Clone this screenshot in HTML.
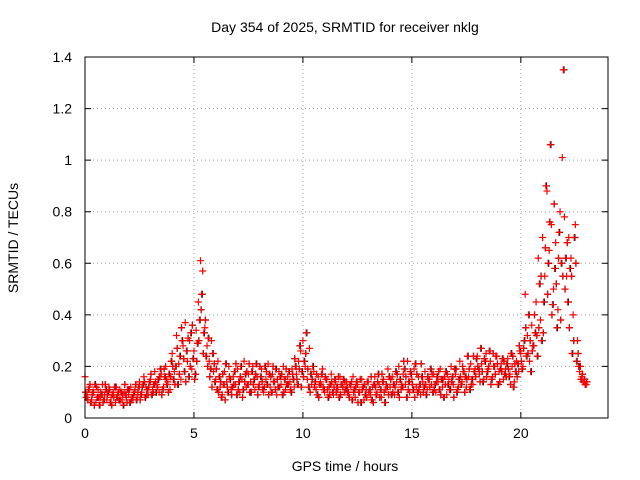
<!DOCTYPE html>
<html><head><meta charset="utf-8"><style>
body{margin:0;background:#fff;}
svg{display:block;font-family:"Liberation Sans",sans-serif;}
</style></head><body>
<svg id="chart" width="640" height="480" viewBox="0 0 640 480" xmlns="http://www.w3.org/2000/svg">
<rect width="640" height="480" fill="#fff"/>
<text x="345" y="32" font-size="14" text-anchor="middle">Day 354 of 2025, SRMTID for receiver nklg</text>
<text x="345" y="471" font-size="14" text-anchor="middle">GPS time / hours</text>
<text transform="translate(18,238) rotate(-90)" font-size="14" text-anchor="middle">SRMTID / TECUs</text>
<g id="grid"></g><g id="marks"></g><g id="axes"></g>
</svg>
<script>
const xTicks=[0,5,10,15,20];
const yTicks=[0,0.2,0.4,0.6,0.8,1,1.2,1.4];
const yTickLabels=["0","0.2","0.4","0.6","0.8","1","1.2","1.4"];
const seriesA=[.16,.09,.12,.07,.10,.06,.11,.08,.13,.09,.07,.12,.08,.10,.06,.09,.11,.07,.10,.08,
.09,.12,.07,.11,.08,.14,.10,.16,.12,.09,.15,.11,.18,.13,.10,.17,.12,.20,.14,.11,
.25,.18,.32,.21,.15,.28,.37,.22,.30,.19,.26,.34,.45,.61,.57,.35,.28,.22,.30,.18,
.15,.22,.12,.09,.18,.14,.20,.11,.16,.13,.19,.10,.15,.22,.12,.17,.14,.20,.11,.16,
.13,.19,.10,.15,.21,.12,.17,.14,.09,.18,.13,.20,.11,.16,.14,.19,.12,.17,.22,.26,
.30,.20,.15,.27,.13,.18,.11,.16,.14,.19,.10,.15,.12,.17,.09,.14,.11,.16,.13,.10,
.14,.09,.12,.16,.08,.13,.10,.15,.07,.11,.14,.09,.12,.16,.10,.13,.08,.15,.11,.19,
.12,.16,.09,.14,.20,.11,.17,.13,.22,.10,.15,.19,.12,.16,.09,.14,.18,.11,.15,.13,
.17,.10,.14,.19,.12,.16,.09,.15,.20,.13,.17,.11,.22,.14,.18,.12,.16,.21,.13,.19,
.24,.17,.21,.15,.25,.19,.22,.16,.20,.24,.18,.21,.15,.19,.23,.17,.20,.14,.22,.18,
.25,.20,.48,.32,.22,.36,.28,.45,.62,.38,.70,.55,.88,.65,.75,.50,.68,.42,.80,1.01,
.78,.55,.70,.62,.40,.75,.30,.18,.16,.14,.13];
const seriesB=[.08,.11,.06,.10,.13,.08,.05,.09,.07,.11,.10,.06,.09,.12,.08,.07,.10,.05,.09,.11,
.06,.08,.10,.07,.12,.09,.13,.08,.11,.14,.09,.13,.10,.15,.19,.11,.16,.13,.17,.22,
.15,.20,.13,.24,.30,.18,.26,.16,.33,.23,.17,.29,.38,.48,.33,.24,.31,.19,.25,.14,
.11,.16,.08,.13,.21,.10,.15,.12,.18,.09,.14,.20,.11,.17,.13,.10,.18,.15,.21,.12,
.16,.11,.20,.13,.17,.10,.14,.19,.12,.16,.09,.15,.13,.18,.10,.15,.20,.13,.28,.18,
.22,.33,.12,.17,.20,.14,.09,.13,.17,.11,.15,.08,.13,.10,.15,.12,.08,.13,.15,.11,
.10,.13,.07,.11,.14,.10,.06,.12,.09,.14,.11,.07,.13,.09,.17,.11,.14,.06,.12,.16,
.09,.13,.18,.10,.15,.12,.19,.08,.14,.17,.11,.21,.10,.13,.16,.12,.09,.15,.19,.10,
.13,.16,.11,.15,.08,.18,.13,.11,.16,.19,.10,.15,.13,.18,.16,.24,.11,.15,.18,.23,
.19,.27,.14,.22,.18,.26,.15,.20,.24,.13,.19,.23,.17,.21,.16,.25,.12,.18,.21,.26,
.19,.30,.24,.40,.18,.28,.33,.24,.52,.30,.45,.90,.60,1.06,.44,.58,.35,.72,.60,1.35,
.62,.45,.58,.25,.70,.22,.20,.15,.14,.13];
const seriesC=[.10,.07,.13,.09,.05,.12,.08,.10,.06,.13,.09,.11,.05,.08,.12,.10,.07,.09,.13,.06,
.11,.07,.09,.13,.10,.07,.12,.14,.09,.12,.17,.10,.14,.12,.16,.09,.19,.15,.10,.16,
.20,.13,.27,.17,.35,.23,.14,.31,.20,.36,.15,.22,.30,.42,.25,.38,.20,.16,.12,.21,
.19,.10,.14,.17,.07,.12,.16,.09,.13,.21,.11,.16,.08,.14,.18,.21,.10,.13,.17,.09,
.20,.14,.12,.18,.09,.16,.20,.11,.15,.12,.17,.10,.19,.13,.11,.17,.23,.15,.19,.12,
.16,.25,.19,.10,.15,.12,.17,.08,.13,.12,.16,.11,.09,.14,.12,.10,.16,.09,.12,.14,
.12,.08,.14,.10,.12,.06,.15,.11,.13,.08,.10,.16,.06,.12,.14,.08,.17,.10,.13,.09,
.15,.10,.12,.17,.08,.13,.22,.16,.11,.18,.13,.08,.17,.11,.21,.10,.13,.16,.12,.17,
.11,.14,.18,.09,.15,.13,.17,.11,.14,.08,.19,.12,.16,.20,.10,.15,.19,.13,.24,.16,
.20,.14,.18,.23,.16,.20,.13,.25,.17,.21,.14,.18,.22,.16,.19,.13,.24,.21,.16,.28,
.22,.27,.35,.25,.30,.26,.40,.32,.35,.55,.33,.66,.48,.76,.40,.83,.52,.62,.38,.55,
.50,.68,.35,.55,.30,.60,.25,.20,.17,.15,.14];
const stepHours=0.1;
const X0=85,X1=608,Y0=418,Y1=57,XMAX=24,YMAX=1.4;
const xs=v=>X0+(X1-X0)*v/XMAX;
const ys=v=>Y0-(Y0-Y1)*v/YMAX;
const NS="http://www.w3.org/2000/svg";
const grid=document.getElementById('grid'),marks=document.getElementById('marks'),axes=document.getElementById('axes');
function mk(tag,attrs,parent){const e=document.createElementNS(NS,tag);for(const k in attrs)e.setAttribute(k,attrs[k]);parent.appendChild(e);return e;}
xTicks.forEach(t=>{
  if(t>0){const g=mk('line',{x1:xs(t),x2:xs(t),y1:Y0,y2:Y1,stroke:'#a0a0a0','stroke-dasharray':'1,3'},grid);
  
  }
  const tk=mk('path',{d:`M${xs(t)},${Y0}v-6M${xs(t)},${Y1}v6`,stroke:'#000'},axes);
  
  
  const l=mk('text',{x:xs(t),y:Y0+20,'font-size':14,'text-anchor':'middle'},axes);l.textContent=String(t);
  
  
});
yTicks.forEach((t,i)=>{
  if(t>0&&t<YMAX){const g=mk('line',{x1:X0,x2:X1,y1:ys(t),y2:ys(t),stroke:'#a0a0a0','stroke-dasharray':'1,3'},grid);
  
  }
  const tk=mk('path',{d:`M${X0},${ys(t)}h6M${X1},${ys(t)}h-6`,stroke:'#000'},axes);
  
  
  const l=mk('text',{x:X0-13,y:ys(t)+5,'font-size':14,'text-anchor':'end'},axes);l.textContent=yTickLabels[i];
  
  
});
const frame=mk('rect',{x:X0,y:Y1,width:X1-X0,height:Y0-Y1,fill:'none',stroke:'#000'},axes);


function plus(t,v,color){
  const x=xs(t),y=ys(v);
  const p=mk('path',{d:`M${x-3.5},${y}h7M${x},${y-3.5}v7`,stroke:color,'stroke-width':1.2,fill:'none'},marks);
  
  
}
seriesB.forEach((v,i)=>plus(i*stepHours+0.08,v,'#000'));
seriesC.forEach((v,i)=>plus(i*stepHours+0.03,v,'#000'));
seriesA.forEach((v,i)=>plus(i*stepHours,v,'#f00'));
seriesB.forEach((v,i)=>plus(i*stepHours+0.05,v,'#f00'));
seriesC.forEach((v,i)=>plus(i*stepHours+0.025,v,'#f00'));
</script>
</body></html>
